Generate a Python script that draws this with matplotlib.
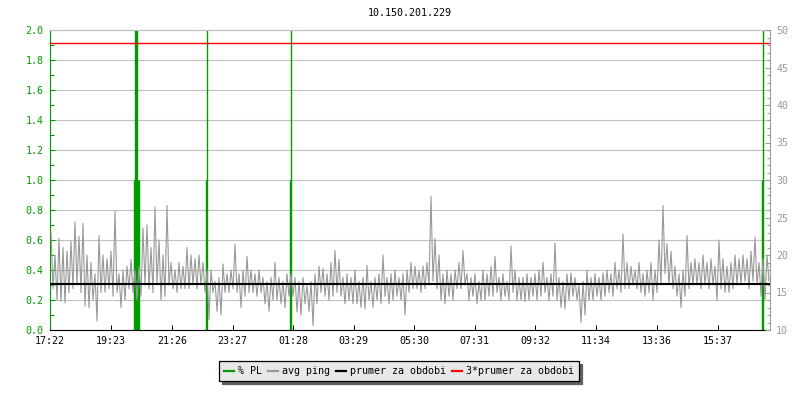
import numpy as np
import matplotlib
matplotlib.use("Agg")
import matplotlib.pyplot as plt
from matplotlib.lines import Line2D
from matplotlib.ticker import MultipleLocator, FormatStrFormatter, FixedLocator

plt.rcParams['font.family'] = ['DejaVu Sans Mono']

title = "10.150.201.229"

# x tick labels (time of day) and their positions in minutes from start
tick_labels = ["17:22", "19:23", "21:26", "23:27", "01:28", "03:29",
               "05:30", "07:31", "09:32", "11:34", "13:36", "15:37"]
tick_minutes = [0, 121, 244, 365, 486, 607, 728, 849, 970, 1092, 1214, 1335]

# avg ping (ms): alternating high / low readings, one pair per 8 minutes
ping_hi = [23.2, 20.0, 22.2, 21.0, 20.5, 21.8, 24.4, 22.5, 24.2, 20.0,
           19.0, 17.5, 22.6, 20.0, 19.5, 20.5, 25.8, 17.5, 18.0, 18.5,
           19.4, 18.0, 18.5, 23.6, 24.0, 21.0, 26.4, 22.0, 20.0, 26.6,
           19.0, 18.0, 19.0, 18.5, 21.0, 20.0, 19.5, 20.0, 19.0, 18.0,
           18.0, 16.5, 17.0, 18.8, 17.5, 18.0, 21.4, 17.5, 18.0, 19.8,
           18.0, 17.5, 18.0, 17.0, 16.5, 17.0, 19.0, 17.0, 16.5, 17.5,
           17.5, 17.0, 16.5, 17.0, 16.0, 16.5, 17.5, 18.5, 18.2, 17.5,
           19.0, 20.6, 19.4, 17.0, 17.5, 17.0, 18.0, 16.5, 17.0, 18.6,
           16.5, 17.0, 17.5, 20.0, 17.0, 17.5, 18.0, 17.0, 17.5, 18.0,
           19.0, 18.5, 18.0, 18.5, 19.0, 27.8, 22.2, 20.0, 17.5, 18.0,
           17.5, 18.0, 19.0, 20.6, 17.5, 17.0, 17.5, 16.5, 18.0, 17.5,
           18.5, 19.8, 17.0, 17.5, 16.5, 21.2, 18.0, 17.0, 17.0, 17.5,
           17.0, 17.5, 18.0, 19.0, 17.0, 17.5, 21.6, 17.0, 16.5, 17.5,
           17.6, 17.0, 16.0, 16.5, 18.0, 17.0, 17.5, 17.0, 17.6, 18.0,
           17.5, 19.0, 18.0, 22.8, 19.0, 18.5, 18.0, 19.0, 17.5, 18.0,
           19.0, 18.0, 22.0, 26.6, 21.5, 20.5, 18.5, 17.5, 18.0, 22.6,
           19.0, 19.5, 19.0, 20.0, 19.0, 19.5, 18.5, 22.0, 19.5, 18.5,
           19.0, 20.0, 19.5, 20.0, 19.5, 20.5, 22.4, 19.0, 19.5, 20.0]
ping_lo = [15.5, 14.0, 13.8, 13.6, 15.0, 15.5, 16.0, 15.0, 13.2, 13.0,
           14.0, 11.2, 15.0, 15.0, 15.5, 14.5, 15.0, 13.0, 14.0, 15.5,
           15.0, 14.0, 14.5, 16.0, 15.5, 15.0, 16.0, 14.0, 14.5, 16.0,
           15.5, 15.0, 15.5, 15.5, 15.5, 16.0, 15.5, 16.0, 15.0, 11.4,
           15.0, 12.5, 12.0, 15.0, 15.0, 15.5, 15.0, 13.0, 14.5, 15.0,
           15.0, 14.5, 15.0, 13.5, 12.5, 14.0, 14.0, 13.5, 13.0, 14.5,
           14.5, 12.4, 12.0, 13.5, 12.5, 10.6, 13.5, 15.0, 14.5, 14.0,
           14.5, 15.0, 14.5, 13.5, 14.0, 13.5, 13.5, 13.0, 12.8, 14.0,
           13.0, 14.0, 13.5, 14.5, 13.5, 14.0, 14.5, 14.0, 12.0, 15.0,
           15.5, 15.5, 15.0, 15.5, 16.0, 16.5, 15.5, 14.0, 13.5, 14.5,
           14.0, 15.5, 15.5, 16.0, 14.0, 14.5, 13.5, 14.0, 14.0, 14.5,
           14.5, 15.0, 14.0, 14.5, 14.0, 15.0, 14.0, 14.0, 13.8, 14.0,
           14.5, 14.0, 14.5, 15.0, 14.0, 14.5, 14.0, 13.0, 12.8, 14.0,
           14.5, 14.0, 11.0, 12.0, 14.0, 14.0, 14.5, 14.0, 14.5, 15.0,
           14.5, 15.5, 15.0, 15.5, 15.5, 16.0, 15.5, 15.0, 14.5, 15.0,
           14.0, 15.0, 16.0, 17.5, 16.0, 15.5, 14.5, 13.0, 14.5, 15.5,
           16.0, 16.0, 15.5, 16.0, 15.5, 16.0, 14.0, 15.5, 15.0, 15.0,
           15.5, 16.0, 16.0, 16.5, 15.5, 16.5, 16.0, 14.5, 14.0, 16.5]

ping_mean = 16.1  # prumer za obdobi (ms)

# packet loss events (minute from start, value on left axis)
pl_minutes = [168, 170, 172, 174, 176, 178, 311, 313, 479, 481, 1423, 1425]
pl_values = [1.0, 100, 100, 100, 1.0, 1.0, 1.0, 100, 1.0, 100, 1.0, 100]

green = '#009900'
gray = '#999999'
fs = 7.2

fig = plt.figure(figsize=(8, 4), dpi=100)
ax = fig.add_axes([50 / 800, 70 / 400, 720 / 800, 300 / 400])
ax2 = ax.twinx()

ax.set_xlim(0, 1440)
ax.set_ylim(0, 2.0)
ax2.set_ylim(10, 50)

# % PL bars
ax.vlines(pl_minutes, 0, pl_values, colors=green, linewidth=1.0)

# avg ping
ping = np.empty(2 * len(ping_hi))
ping[0::2] = ping_hi
ping[1::2] = ping_lo
t = 2 + 4 * np.arange(len(ping))
ax2.plot(t, ping, color=gray, linewidth=0.8)

ax2.axhline(ping_mean, color='black', linewidth=1.5)
ax2.axhline(3 * ping_mean, color='#ff0000', linewidth=1.0)

# grid
ax.yaxis.set_major_locator(MultipleLocator(0.2))
ax.yaxis.set_minor_locator(MultipleLocator(0.1))
ax.yaxis.set_major_formatter(FormatStrFormatter('%.1f'))
ax.grid(axis='y', which='major', color='#c0c0c0', linewidth=0.8)
ax.set_axisbelow(True)

ax.xaxis.set_major_locator(FixedLocator(tick_minutes))
ax.set_xticklabels(tick_labels)

ax.tick_params(axis='y', which='both', direction='in', colors=green,
               labelsize=fs, pad=4.5, width=0.75)
ax.tick_params(axis='y', which='major', length=3.6)
ax.tick_params(axis='y', which='minor', length=2.9)
ax.tick_params(axis='x', which='major', direction='in', length=3.6,
               width=0.75, colors='black', labelsize=fs, pad=4)

ax2.yaxis.set_major_locator(MultipleLocator(5))
ax2.yaxis.set_minor_locator(MultipleLocator(1))
ax2.tick_params(axis='y', which='both', direction='in', colors=gray,
                labelsize=fs, pad=4.5, width=0.75)
ax2.tick_params(axis='y', which='major', length=3.6)
ax2.tick_params(axis='y', which='minor', length=2.2)

for s in ['left', 'top', 'bottom']:
    ax2.spines[s].set_visible(False)
ax2.spines['right'].set_color(gray)
ax2.spines['right'].set_linewidth(0.8)
ax.spines['right'].set_visible(False)
ax.spines['top'].set_color('#c0c0c0')
ax.spines['top'].set_linewidth(0.8)
ax.spines['left'].set_color(green)
ax.spines['left'].set_linewidth(0.8)
ax.spines['bottom'].set_color('black')
ax.spines['bottom'].set_linewidth(0.8)

fig.text(410 / 800, 1 - 13 / 400, title, ha='center', va='center',
         fontsize=fs, color='black')

handles = [Line2D([], [], color=green, lw=1.6),
           Line2D([], [], color=gray, lw=1.6),
           Line2D([], [], color='black', lw=1.6),
           Line2D([], [], color='#ff0000', lw=1.6)]
labels = ['% PL', 'avg ping', 'prumer za obdobi', '3*prumer za obdobi']
leg = fig.legend(handles, labels, loc='center', bbox_to_anchor=(0.499, 0.0718),
                 ncol=4, frameon=True, fancybox=False,
                 shadow={'facecolor': '#606060', 'edgecolor': '#606060', 'alpha': 1.0},
                 handlelength=1.0, handletextpad=0.4, columnspacing=0.6,
                 borderpad=0.5, prop={'size': fs}, edgecolor='black',
                 facecolor='#e8e8e8', framealpha=1.0)
leg.get_frame().set_linewidth(0.9)

fig.savefig('out.png', dpi=100)
